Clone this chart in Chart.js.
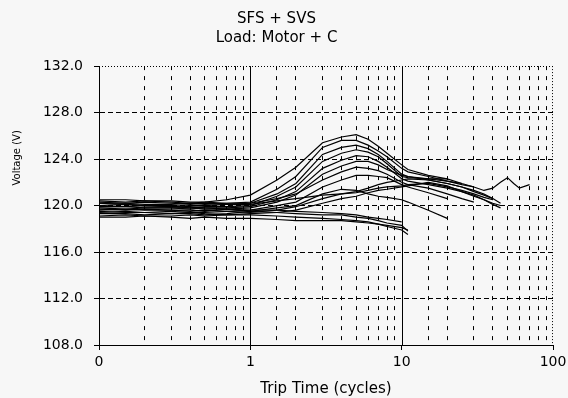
<!DOCTYPE html>
<html>
<head>
<meta charset="utf-8">
<script src="https://cdn.jsdelivr.net/npm/chart.js@4/dist/chart.umd.min.js"></script>
<style>
html,body{margin:0;padding:0;background:#f7f7f7;}
#wrap{width:568px;height:398px;}
</style>
</head>
<body>
<div id="wrap"><canvas id="c" width="568" height="398"></canvas></div>
<script>
// ---- data ----
const tripTimes = [0.1, 0.15, 0.2, 0.3, 0.4, 0.5, 0.7, 1, 1.5, 2, 3, 4, 5, 6, 7, 8, 10, 11, 15, 20, 25, 30, 35, 40, 45, 50, 55, 60, 70];

const traceA = [120.4,120.3,120.4,120.3,120.2,120.3,120.5, 120.9,122.2,123.3,125.4,125.9,126.1,125.7,125.1,124.5,123.5,123.1,122.6,122.3, null,null,null,null,null,null,null,null,null];
const traceB = [120.2,120.2,120.1,120.1,120.2,120.1,120.2, 120.3,121.4,122.5,125.0,125.6,125.6,125.2,124.7,124.2,123.2,122.9,122.5,122.1,121.9, null,null,null,null,null,null,null,null];
const traceC = [120.0,120.1,120.0,119.9,120.0,120.0,120.1, 120.2,121.0,121.9,124.4,125.0,125.2,124.9,124.4,123.8,122.7,122.5,122.2,121.9,121.6,121.3,121.0,120.6,120.2, null,null,null,null];
const traceD = [119.9,119.9,120.0,119.9,119.8,119.9,119.9, 120.0,120.8,121.6,123.8,124.5,124.8,124.6,124.2,123.6,122.5,122.4,122.3,122.3,121.9,121.6,121.3,121.5,122.0,122.4,121.9,121.5,121.8];
const traceE = [119.8,119.7,119.8,119.8,119.7,119.8,119.8, 119.9,120.5,121.2,123.2,123.9,124.3,124.2,123.8,123.3,122.3,122.1,121.8,121.5,121.2,120.9,120.5,120.1,119.8, null,null,null,null];
const traceF = [119.6,119.7,119.6,119.6,119.6,119.5,119.7, 119.8,120.3,120.9,122.7,123.4,123.8,123.8,123.5,123.1,122.6,122.5,122.3,122.1,121.8,121.6, null,null,null,null,null,null,null];
const traceG = [120.5,120.5,120.4,120.4,120.3,120.3,120.2, 120.2,120.6,121.0,122.2,122.9,123.3,123.2,123.0,122.7,122.0,121.8,121.5,121.0,120.6,120.3, null,null,null,null,null,null,null];
const traceH = [119.4,119.5,119.4,119.5,119.4,119.4,119.5, 119.6,120.0,120.3,121.6,122.2,122.6,122.6,122.5,122.4,121.8,121.6,121.1,120.6, null,null,null,null,null,null,null,null,null];
const traceI = [119.3,119.3,119.2,119.3,119.3,119.2,119.3, 119.5,119.8,120.0,121.0,121.4,121.3,121.0,120.8,120.7,120.5,120.3,119.6,118.9, null,null,null,null,null,null,null,null,null];
const traceJ = [119.7,119.6,119.7,119.6,119.5,119.6,119.5, 119.4,119.6,119.9,120.6,121.0,121.2,121.5,121.8,122.0,122.2,122.3,122.2,121.9,121.6,121.2,120.9,120.6, null,null,null,null,null];
const traceK = [119.1,119.2,119.1,119.1,119.2,119.1,119.2, 119.3,119.4,119.6,120.2,120.6,120.8,121.1,121.3,121.4,121.6,121.7,122.0,121.7,121.2,120.8,120.5,120.2,120.0, null,null,null,null];
const traceM = [119.9,119.9,119.8,119.8,119.8,119.7,119.7, 119.5,119.4,119.3,119.2,119.2,119.0,118.9,118.7,118.5,118.3,117.8, null,null,null,null,null,null,null,null,null,null,null];
const traceN = [119.5,119.4,119.4,119.3,119.4,119.3,119.2, 119.2,119.1,119.0,118.9,118.8,118.7,118.6,118.4,118.2,117.9,117.5, null,null,null,null,null,null,null,null,null,null,null];
const traceO = [119.0,119.0,119.1,119.0,118.9,119.0,118.9, 118.9,118.8,118.7,118.7,118.7,118.6,118.5,118.4,118.3,118.1,117.9, null,null,null,null,null,null,null,null,null,null,null];
const traceP = [120.2,120.1,120.0,120.0,119.9,119.8,119.7, 119.6,119.6,119.5,119.4,119.3,119.2,119.0,118.9,118.8,118.6, null,null,null,null,null,null,null,null,null,null,null,null];
const traceQ = [120.3,120.2,120.3,120.2,120.1,120.2,120.1, 120.1,120.4,120.6,120.9,121.0,121.1,121.3,121.5,121.6,121.7,121.8,121.9,121.6,121.3,121.0,120.7,120.5, null,null,null,null,null];

const yTickValues = [108, 112, 116, 120, 124, 128, 132];
const xMajorValues = [0.1, 1, 10, 100];
const xMajorLabels = ['0', '1', '10', '100'];
const solidGridValues = [1, 10];
const titleLines = ['SFS + SVS', 'Load: Motor + C'];
const xTitle = 'Trip Time (cycles)';
const yTitle = 'Voltage (V)';

// ---- helpers ----
const traces = [traceA, traceB, traceC, traceD, traceE, traceF, traceG, traceH, traceI, traceJ, traceK, traceM, traceN, traceO, traceP, traceQ];
const FONT = "'DejaVu Sans', sans-serif";
const sameLog = (a, b) => Math.abs(Math.log10(a) - Math.log10(b)) < 1e-6;
const majorIndex = v => xMajorValues.findIndex(m => sameLog(v, m));

const datasets = traces.map(tr => ({
  data: tr.map((v, i) => ({ x: tripTimes[i], y: v })).filter(p => p.y !== null),
  showLine: true,
  borderColor: '#000',
  borderWidth: 1.2,
  pointRadius: 0,
  tension: 0,
  fill: false
}));

const bgPlugin = {
  id: 'bg',
  beforeDraw(chart) {
    const c = chart.ctx;
    c.save();
    c.fillStyle = '#f7f7f7';
    c.fillRect(0, 0, chart.width, chart.height);
    c.restore();
  }
};

const framePlugin = {
  id: 'frame',
  beforeDatasetsDraw(chart) {
    const c = chart.ctx;
    const a = chart.chartArea;
    const xs = chart.scales.x;
    c.save();
    c.strokeStyle = '#000';
    c.lineWidth = 1;
    solidGridValues.forEach(v => {
      const px = Math.round(xs.getPixelForValue(v)) + 0.5;
      c.beginPath();
      c.moveTo(px, a.top);
      c.lineTo(px, a.bottom);
      c.stroke();
    });
    c.setLineDash([1, 2]);
    const t = Math.round(a.top) + 0.5;
    const r = Math.round(a.right) - 0.5;
    c.beginPath();
    c.moveTo(a.left, t);
    c.lineTo(a.right, t);
    c.moveTo(r, a.top);
    c.lineTo(r, a.bottom);
    c.stroke();
    c.restore();
  }
};

const hiddenXGrid = v => sameLog(v, 0.1) || sameLog(v, 100) || solidGridValues.some(s => sameLog(v, s));

new Chart(document.getElementById('c'), {
  type: 'scatter',
  data: { datasets },
  plugins: [bgPlugin, framePlugin],
  options: {
    responsive: false,
    animation: false,
    devicePixelRatio: 1,
    layout: { padding: { left: 0, right: 15, top: 0, bottom: 0 } },
    plugins: {
      legend: { display: false },
      tooltip: { enabled: false },
      title: {
        display: true,
        text: titleLines,
        color: '#000',
        font: { family: FONT, size: 15, weight: 'normal', lineHeight: 1.27 },
        padding: { top: 10, bottom: 18 }
      }
    },
    scales: {
      x: {
        type: 'logarithmic',
        min: 0.1,
        max: 100,
        afterFit(s) { s.height = 53; },
        ticks: {
          autoSkip: false,
          maxRotation: 0,
          minRotation: 0,
          padding: 1,
          color: '#000',
          font: { family: FONT, size: 14, lineHeight: 1.6 },
          callback: v => { const i = majorIndex(v); return i >= 0 ? xMajorLabels[i] : ''; }
        },
        grid: {
          color: ctx => (ctx.tick && hiddenXGrid(ctx.tick.value)) ? 'rgba(0,0,0,0)' : '#000',
          lineWidth: 1,
          tickLength: 5,
          tickColor: ctx => (ctx.tick && majorIndex(ctx.tick.value) >= 0) ? '#000' : 'rgba(0,0,0,0)'
        },
        border: { display: true, color: '#000', width: 1, dash: [4, 6] },
        title: {
          display: true,
          text: xTitle,
          color: '#000',
          font: { family: FONT, size: 15, lineHeight: 1.2 },
          padding: { top: 0, bottom: 0 }
        }
      },
      y: {
        min: 108,
        max: 132,
        afterFit(s) { s.width = 99; },
        afterBuildTicks(s) { s.ticks = yTickValues.map(v => ({ value: v })); },
        ticks: {
          padding: 11,
          color: '#000',
          font: { family: FONT, size: 14 },
          callback: v => Number(v).toFixed(1)
        },
        grid: {
          color: ctx => (ctx.tick && (ctx.tick.value === 108 || ctx.tick.value === 132)) ? 'rgba(0,0,0,0)' : '#000',
          lineWidth: 1,
          tickLength: 5,
          tickColor: '#000'
        },
        border: { display: true, color: '#000', width: 1, dash: [5, 3] },
        title: {
          display: true,
          text: ' '.repeat(30) + yTitle,
          color: '#000',
          font: { family: FONT, size: 10, lineHeight: 1.2 },
          padding: { top: 11, bottom: 0 }
        }
      }
    }
  }
});
</script>
</body>
</html>
